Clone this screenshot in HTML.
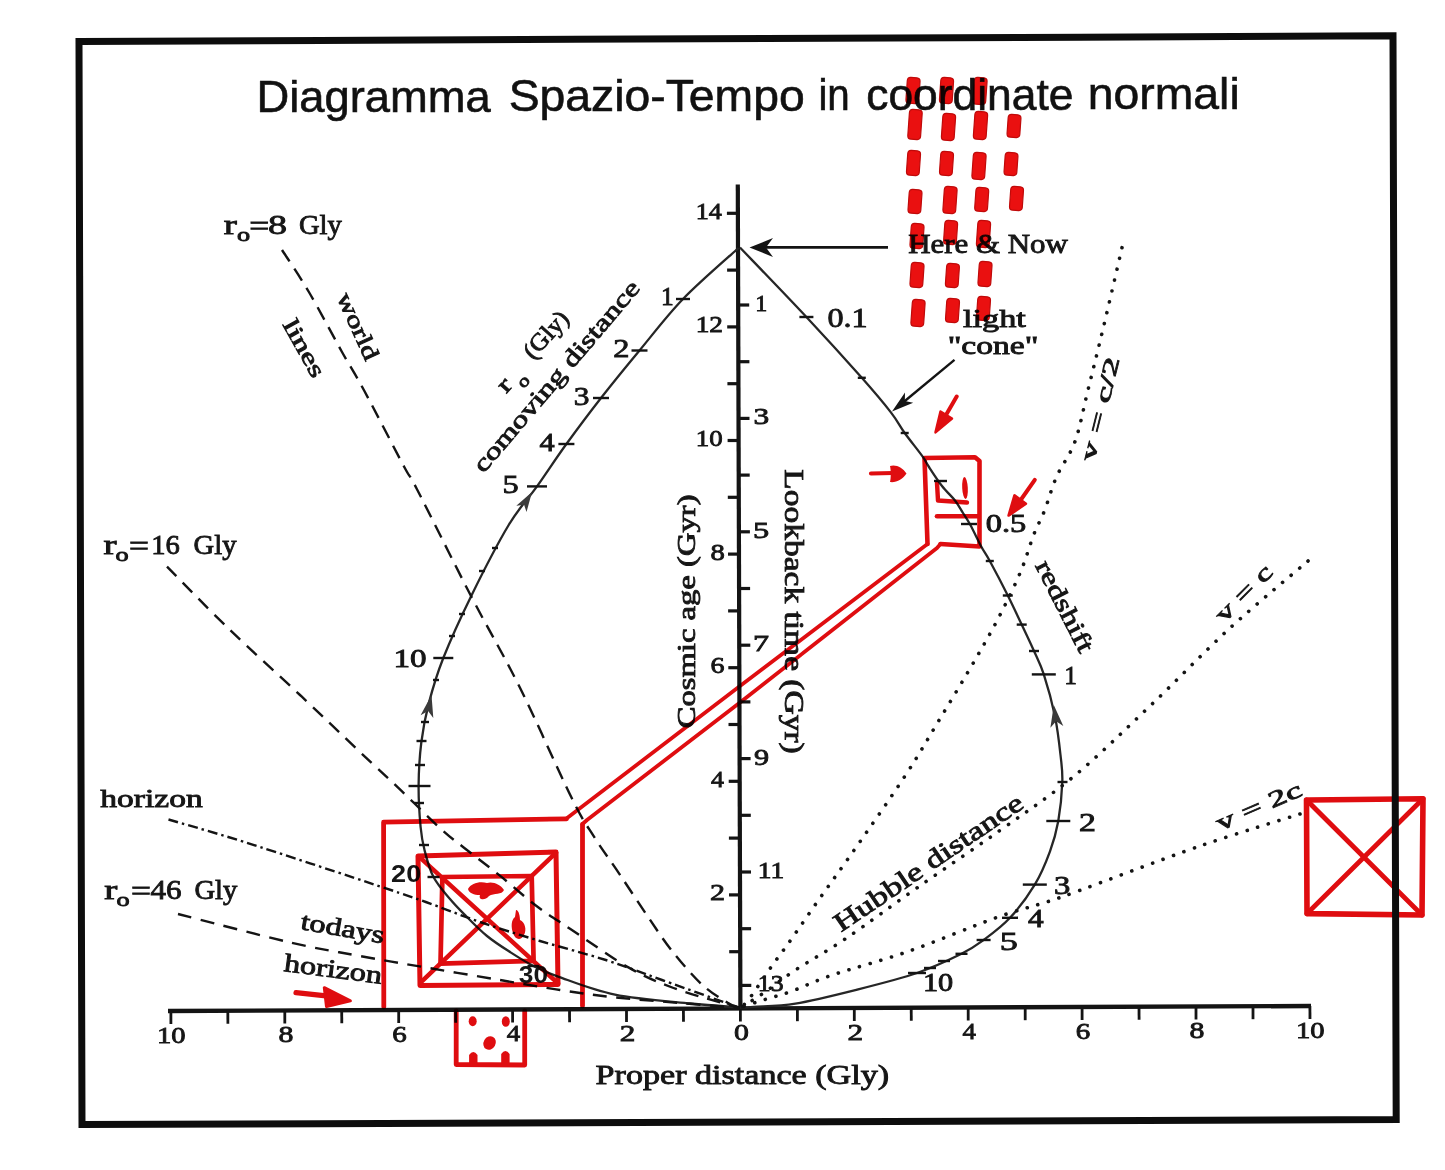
<!DOCTYPE html>
<html><head><meta charset="utf-8"><title>Diagramma Spazio-Tempo</title>
<style>html,body{margin:0;padding:0;background:#fff;width:1445px;height:1170px;overflow:hidden}svg{display:block;filter:blur(0.45px)}</style>
</head><body>
<svg width="1445" height="1170" viewBox="0 0 1445 1170">
<text x="256.4" y="112.2" style='font-family:"Liberation Sans",sans-serif;font-size:45.0px' fill="#111" stroke="#111" stroke-width="0.60" textLength="234.3" lengthAdjust="spacingAndGlyphs">Diagramma</text>
<text x="508.7" y="111.2" style='font-family:"Liberation Sans",sans-serif;font-size:45.0px' fill="#111" stroke="#111" stroke-width="0.60" textLength="296.0" lengthAdjust="spacingAndGlyphs">Spazio-Tempo</text>
<text x="818.4" y="109.9" style='font-family:"Liberation Sans",sans-serif;font-size:45.0px' fill="#111" stroke="#111" stroke-width="0.60" textLength="31.4" lengthAdjust="spacingAndGlyphs">in</text>
<text x="866.2" y="109.7" style='font-family:"Liberation Sans",sans-serif;font-size:45.0px' fill="#111" stroke="#111" stroke-width="0.60" textLength="207.3" lengthAdjust="spacingAndGlyphs">coordinate</text>
<text x="1087.8" y="108.8" style='font-family:"Liberation Sans",sans-serif;font-size:45.0px' fill="#111" stroke="#111" stroke-width="0.60" textLength="151.9" lengthAdjust="spacingAndGlyphs">normali</text>
<line x1="168" y1="1011.0" x2="1311" y2="1006.0" stroke="#141414" stroke-width="4.4"/>
<line x1="170.9" y1="1011.0" x2="170.9" y2="1024.0" stroke="#141414" stroke-width="2.8"/>
<text x="157.0" y="1042.5" style='font-family:"Liberation Serif",serif;font-size:24.0px' fill="#161616" stroke="#161616" stroke-width="0.85" textLength="28.6" lengthAdjust="spacingAndGlyphs">10</text>
<line x1="227.8" y1="1010.7" x2="227.9" y2="1023.7" stroke="#141414" stroke-width="2.8"/>
<line x1="284.8" y1="1010.5" x2="284.8" y2="1023.5" stroke="#141414" stroke-width="2.8"/>
<text x="278.4" y="1042.0" style='font-family:"Liberation Serif",serif;font-size:24.0px' fill="#161616" stroke="#161616" stroke-width="0.85" textLength="14.9" lengthAdjust="spacingAndGlyphs">8</text>
<line x1="341.7" y1="1010.2" x2="341.8" y2="1023.2" stroke="#141414" stroke-width="2.8"/>
<line x1="398.7" y1="1010.0" x2="398.7" y2="1023.0" stroke="#141414" stroke-width="2.8"/>
<text x="392.3" y="1041.5" style='font-family:"Liberation Serif",serif;font-size:24.0px' fill="#161616" stroke="#161616" stroke-width="0.85" textLength="14.5" lengthAdjust="spacingAndGlyphs">6</text>
<line x1="455.6" y1="1009.7" x2="455.7" y2="1022.7" stroke="#141414" stroke-width="2.8"/>
<line x1="512.6" y1="1009.5" x2="512.6" y2="1022.5" stroke="#141414" stroke-width="2.8"/>
<text x="506.8" y="1041.0" style='font-family:"Liberation Serif",serif;font-size:24.0px' fill="#161616" stroke="#161616" stroke-width="0.85" textLength="13.4" lengthAdjust="spacingAndGlyphs">4</text>
<line x1="569.5" y1="1009.2" x2="569.6" y2="1022.2" stroke="#141414" stroke-width="2.8"/>
<line x1="626.5" y1="1009.0" x2="626.5" y2="1022.0" stroke="#141414" stroke-width="2.8"/>
<text x="619.8" y="1040.5" style='font-family:"Liberation Serif",serif;font-size:24.0px' fill="#161616" stroke="#161616" stroke-width="0.85" textLength="15.6" lengthAdjust="spacingAndGlyphs">2</text>
<line x1="683.4" y1="1008.7" x2="683.5" y2="1021.7" stroke="#141414" stroke-width="2.8"/>
<line x1="740.4" y1="1008.5" x2="740.4" y2="1021.5" stroke="#141414" stroke-width="2.8"/>
<text x="734.0" y="1040.0" style='font-family:"Liberation Serif",serif;font-size:24.0px' fill="#161616" stroke="#161616" stroke-width="0.85" textLength="14.9" lengthAdjust="spacingAndGlyphs">0</text>
<line x1="797.4" y1="1008.2" x2="797.4" y2="1021.2" stroke="#141414" stroke-width="2.8"/>
<line x1="854.3" y1="1008.0" x2="854.3" y2="1021.0" stroke="#141414" stroke-width="2.8"/>
<text x="847.6" y="1039.5" style='font-family:"Liberation Serif",serif;font-size:24.0px' fill="#161616" stroke="#161616" stroke-width="0.85" textLength="15.6" lengthAdjust="spacingAndGlyphs">2</text>
<line x1="911.2" y1="1007.7" x2="911.3" y2="1020.7" stroke="#141414" stroke-width="2.8"/>
<line x1="968.2" y1="1007.5" x2="968.2" y2="1020.5" stroke="#141414" stroke-width="2.8"/>
<text x="962.4" y="1039.0" style='font-family:"Liberation Serif",serif;font-size:24.0px' fill="#161616" stroke="#161616" stroke-width="0.85" textLength="13.4" lengthAdjust="spacingAndGlyphs">4</text>
<line x1="1025.2" y1="1007.2" x2="1025.2" y2="1020.2" stroke="#141414" stroke-width="2.8"/>
<line x1="1082.1" y1="1007.0" x2="1082.1" y2="1020.0" stroke="#141414" stroke-width="2.8"/>
<text x="1075.7" y="1038.5" style='font-family:"Liberation Serif",serif;font-size:24.0px' fill="#161616" stroke="#161616" stroke-width="0.85" textLength="14.5" lengthAdjust="spacingAndGlyphs">6</text>
<line x1="1139.0" y1="1006.7" x2="1139.1" y2="1019.7" stroke="#141414" stroke-width="2.8"/>
<line x1="1196.0" y1="1006.5" x2="1196.0" y2="1019.5" stroke="#141414" stroke-width="2.8"/>
<text x="1189.6" y="1038.0" style='font-family:"Liberation Serif",serif;font-size:24.0px' fill="#161616" stroke="#161616" stroke-width="0.85" textLength="14.9" lengthAdjust="spacingAndGlyphs">8</text>
<line x1="1253.0" y1="1006.2" x2="1253.0" y2="1019.2" stroke="#141414" stroke-width="2.8"/>
<line x1="1309.9" y1="1006.0" x2="1310.0" y2="1019.0" stroke="#141414" stroke-width="2.8"/>
<text x="1296.0" y="1037.5" style='font-family:"Liberation Serif",serif;font-size:24.0px' fill="#161616" stroke="#161616" stroke-width="0.85" textLength="28.6" lengthAdjust="spacingAndGlyphs">10</text>
<line x1="737.8" y1="184.5" x2="740.4" y2="1009" stroke="#141414" stroke-width="4.2"/>
<line x1="729.2" y1="951.7" x2="740.2" y2="951.7" stroke="#141414" stroke-width="3.2"/>
<line x1="729.0" y1="894.9" x2="740.0" y2="894.9" stroke="#141414" stroke-width="3.2"/>
<text x="710.1" y="900.4" style='font-family:"Liberation Serif",serif;font-size:24.0px' fill="#161616" stroke="#161616" stroke-width="0.85" textLength="15.0" lengthAdjust="spacingAndGlyphs">2</text>
<line x1="728.9" y1="838.1" x2="739.9" y2="838.1" stroke="#141414" stroke-width="3.2"/>
<line x1="728.7" y1="781.3" x2="739.7" y2="781.3" stroke="#141414" stroke-width="3.2"/>
<text x="711.0" y="786.8" style='font-family:"Liberation Serif",serif;font-size:24.0px' fill="#161616" stroke="#161616" stroke-width="0.85" textLength="12.9" lengthAdjust="spacingAndGlyphs">4</text>
<line x1="728.5" y1="724.5" x2="739.5" y2="724.5" stroke="#141414" stroke-width="3.2"/>
<line x1="728.3" y1="667.7" x2="739.3" y2="667.7" stroke="#141414" stroke-width="3.2"/>
<text x="710.4" y="673.2" style='font-family:"Liberation Serif",serif;font-size:24.0px' fill="#161616" stroke="#161616" stroke-width="0.85" textLength="14.0" lengthAdjust="spacingAndGlyphs">6</text>
<line x1="728.1" y1="610.9" x2="739.1" y2="610.9" stroke="#141414" stroke-width="3.2"/>
<line x1="728.0" y1="554.1" x2="739.0" y2="554.1" stroke="#141414" stroke-width="3.2"/>
<text x="710.4" y="559.6" style='font-family:"Liberation Serif",serif;font-size:24.0px' fill="#161616" stroke="#161616" stroke-width="0.85" textLength="14.3" lengthAdjust="spacingAndGlyphs">8</text>
<line x1="727.8" y1="497.3" x2="738.8" y2="497.3" stroke="#141414" stroke-width="3.2"/>
<line x1="727.6" y1="440.5" x2="738.6" y2="440.5" stroke="#141414" stroke-width="3.2"/>
<text x="695.7" y="446.0" style='font-family:"Liberation Serif",serif;font-size:24.0px' fill="#161616" stroke="#161616" stroke-width="0.85" textLength="26.9" lengthAdjust="spacingAndGlyphs">10</text>
<line x1="727.4" y1="383.7" x2="738.4" y2="383.7" stroke="#141414" stroke-width="3.2"/>
<line x1="727.2" y1="326.9" x2="738.2" y2="326.9" stroke="#141414" stroke-width="3.2"/>
<text x="695.7" y="332.4" style='font-family:"Liberation Serif",serif;font-size:24.0px' fill="#161616" stroke="#161616" stroke-width="0.85" textLength="27.3" lengthAdjust="spacingAndGlyphs">12</text>
<line x1="727.1" y1="270.1" x2="738.1" y2="270.1" stroke="#141414" stroke-width="3.2"/>
<line x1="726.9" y1="213.3" x2="737.9" y2="213.3" stroke="#141414" stroke-width="3.2"/>
<text x="695.8" y="218.8" style='font-family:"Liberation Serif",serif;font-size:24.0px' fill="#161616" stroke="#161616" stroke-width="0.85" textLength="26.1" lengthAdjust="spacingAndGlyphs">14</text>
<line x1="738.2" y1="305.0" x2="749.2" y2="305.0" stroke="#141414" stroke-width="3.2"/>
<text x="755.3" y="311.0" style='font-family:"Liberation Serif",serif;font-size:24.0px' fill="#161616" stroke="#161616" stroke-width="0.85" textLength="12.0" lengthAdjust="spacingAndGlyphs">1</text>
<line x1="738.4" y1="361.7" x2="749.4" y2="361.7" stroke="#141414" stroke-width="3.2"/>
<line x1="738.5" y1="418.4" x2="749.5" y2="418.4" stroke="#141414" stroke-width="3.2"/>
<text x="753.6" y="424.4" style='font-family:"Liberation Serif",serif;font-size:24.0px' fill="#161616" stroke="#161616" stroke-width="0.85" textLength="15.7" lengthAdjust="spacingAndGlyphs">3</text>
<line x1="738.7" y1="475.1" x2="749.7" y2="475.1" stroke="#141414" stroke-width="3.2"/>
<line x1="738.9" y1="531.8" x2="749.9" y2="531.8" stroke="#141414" stroke-width="3.2"/>
<text x="753.0" y="537.8" style='font-family:"Liberation Serif",serif;font-size:24.0px' fill="#161616" stroke="#161616" stroke-width="0.85" textLength="16.2" lengthAdjust="spacingAndGlyphs">5</text>
<line x1="739.1" y1="588.5" x2="750.1" y2="588.5" stroke="#141414" stroke-width="3.2"/>
<line x1="739.3" y1="645.2" x2="750.3" y2="645.2" stroke="#141414" stroke-width="3.2"/>
<text x="752.9" y="651.2" style='font-family:"Liberation Serif",serif;font-size:24.0px' fill="#161616" stroke="#161616" stroke-width="0.85" textLength="16.0" lengthAdjust="spacingAndGlyphs">7</text>
<line x1="739.4" y1="701.9" x2="750.4" y2="701.9" stroke="#141414" stroke-width="3.2"/>
<line x1="739.6" y1="758.6" x2="750.6" y2="758.6" stroke="#141414" stroke-width="3.2"/>
<text x="754.1" y="764.6" style='font-family:"Liberation Serif",serif;font-size:24.0px' fill="#161616" stroke="#161616" stroke-width="0.85" textLength="15.1" lengthAdjust="spacingAndGlyphs">9</text>
<line x1="739.8" y1="815.3" x2="750.8" y2="815.3" stroke="#141414" stroke-width="3.2"/>
<line x1="740.0" y1="872.0" x2="751.0" y2="872.0" stroke="#141414" stroke-width="3.2"/>
<text x="757.7" y="878.0" style='font-family:"Liberation Serif",serif;font-size:24.0px' fill="#161616" stroke="#161616" stroke-width="0.85" textLength="26.4" lengthAdjust="spacingAndGlyphs">11</text>
<line x1="740.1" y1="928.7" x2="751.1" y2="928.7" stroke="#141414" stroke-width="3.2"/>
<line x1="740.3" y1="985.4" x2="751.3" y2="985.4" stroke="#141414" stroke-width="3.2"/>
<text x="757.8" y="991.4" style='font-family:"Liberation Serif",serif;font-size:24.0px' fill="#161616" stroke="#161616" stroke-width="0.85" textLength="25.7" lengthAdjust="spacingAndGlyphs">13</text>
<text x="595.6" y="1084.3" style='font-family:"Liberation Serif",serif;font-size:27.0px' fill="#161616" stroke="#161616" stroke-width="0.85" textLength="293.5" lengthAdjust="spacingAndGlyphs">Proper distance (Gly)</text>
<text x="695.0" y="728.3" style='font-family:"Liberation Serif",serif;font-size:26.0px' fill="#161616" stroke="#161616" stroke-width="0.85" textLength="233.8" lengthAdjust="spacingAndGlyphs" transform="rotate(-90.00 695.0 728.3)">Cosmic age (Gyr)</text>
<text x="784.5" y="469.3" style='font-family:"Liberation Serif",serif;font-size:28.0px' fill="#161616" stroke="#161616" stroke-width="0.85" textLength="284.4" lengthAdjust="spacingAndGlyphs" transform="rotate(90.00 784.5 469.3)">Lookback time (Gyr)</text>
<path d="M738.5,248.0 C729.2,256.5 699.5,281.9 683.0,299.0 C666.5,316.1 653.2,334.0 639.5,350.5 C625.8,367.0 613.2,382.4 601.0,398.0 C588.8,413.6 577.1,429.3 566.4,444.0 C555.7,458.7 546.6,472.9 537.0,486.4 C527.4,499.9 519.7,506.7 508.7,525.0 C497.7,543.3 481.9,574.2 471.0,596.4 C460.1,618.6 450.4,640.1 443.3,658.0 C436.2,675.9 432.4,689.5 428.7,703.6 C425.0,717.7 423.0,728.8 421.3,742.5 C419.6,756.2 418.7,771.9 418.6,786.0 C418.5,800.1 419.6,816.3 420.6,827.0 C421.6,837.7 422.4,841.7 424.5,850.0 C426.6,858.3 429.2,868.8 433.5,877.0 C437.8,885.2 444.6,892.5 450.0,899.0 C455.4,905.5 459.8,909.8 466.0,916.0 C472.2,922.2 479.7,930.0 487.0,936.0 C494.3,942.0 502.2,947.0 510.0,952.0 C517.8,957.0 525.4,961.9 533.5,966.0 C541.6,970.1 545.2,972.0 558.8,976.8 C572.4,981.6 593.1,990.1 615.0,994.6 C636.9,999.1 669.6,1001.4 690.4,1003.5 C711.2,1005.6 731.7,1006.8 740.0,1007.5" fill="none" stroke="#262626" stroke-width="2.3"/>
<path d="M740.0,247.5 C751.1,259.1 786.1,295.3 806.4,317.0 C826.7,338.7 847.7,361.9 861.8,377.8 C875.9,393.7 883.8,403.2 890.9,412.4 C898.0,421.6 899.4,425.6 904.7,433.0 C910.0,440.4 918.7,451.0 922.7,456.7 C926.8,462.4 925.8,462.1 929.0,467.0 C932.2,471.9 937.7,480.4 942.0,486.0 C946.3,491.6 951.5,496.0 955.0,500.5 C958.5,505.0 960.4,508.9 963.0,513.0 C965.6,517.1 967.3,519.3 970.4,525.0 C973.5,530.7 978.3,541.0 981.5,547.0 C984.7,553.0 985.4,552.9 989.8,561.0 C994.2,569.1 1002.5,584.9 1007.8,595.5 C1013.1,606.1 1017.3,615.4 1021.7,624.6 C1026.1,633.9 1030.3,642.7 1034.0,651.0 C1037.7,659.3 1040.3,663.6 1043.8,674.4 C1047.3,685.2 1052.1,702.6 1054.9,716.0 C1057.7,729.4 1059.3,744.0 1060.5,755.0 C1061.7,766.0 1062.7,771.0 1062.3,782.0 C1061.9,793.0 1060.3,809.5 1058.3,821.0 C1056.2,832.5 1053.9,840.7 1050.0,851.3 C1046.1,861.9 1041.5,873.5 1034.8,884.6 C1028.1,895.7 1018.5,908.6 1010.0,917.8 C1001.5,927.0 991.7,934.0 983.6,940.0 C975.5,946.0 972.6,948.3 961.5,953.8 C950.4,959.3 934.5,967.0 917.0,973.0 C899.5,979.0 876.6,984.7 856.3,989.8 C836.0,994.9 812.5,1000.8 795.4,1003.6 C778.3,1006.4 763.0,1006.1 753.8,1006.8 C744.6,1007.4 742.3,1007.4 740.0,1007.5" fill="none" stroke="#262626" stroke-width="2.3"/>
<line x1="676.0" y1="299.0" x2="690.0" y2="299.0" stroke="#141414" stroke-width="2.4"/>
<line x1="631.5" y1="350.5" x2="647.5" y2="350.5" stroke="#141414" stroke-width="2.4"/>
<line x1="593.0" y1="398.0" x2="609.0" y2="398.0" stroke="#141414" stroke-width="2.4"/>
<line x1="558.4" y1="444.0" x2="574.4" y2="444.0" stroke="#141414" stroke-width="2.4"/>
<line x1="527.0" y1="486.4" x2="547.0" y2="486.4" stroke="#141414" stroke-width="2.4"/>
<line x1="433.3" y1="658.0" x2="453.3" y2="658.0" stroke="#141414" stroke-width="2.4"/>
<line x1="408.5" y1="786.0" x2="430.5" y2="786.0" stroke="#141414" stroke-width="2.4"/>
<line x1="419.0" y1="845.0" x2="429.0" y2="845.0" stroke="#141414" stroke-width="2.4"/>
<line x1="427.5" y1="877.0" x2="439.5" y2="877.0" stroke="#141414" stroke-width="2.4"/>
<line x1="527.5" y1="966.0" x2="539.5" y2="966.0" stroke="#141414" stroke-width="2.4"/>
<line x1="492.0" y1="548.0" x2="498.0" y2="548.0" stroke="#141414" stroke-width="2.4"/>
<line x1="479.0" y1="571.0" x2="485.0" y2="571.0" stroke="#141414" stroke-width="2.4"/>
<line x1="459.0" y1="614.0" x2="465.0" y2="614.0" stroke="#141414" stroke-width="2.4"/>
<line x1="449.0" y1="636.0" x2="455.0" y2="636.0" stroke="#141414" stroke-width="2.4"/>
<line x1="433.0" y1="680.0" x2="439.0" y2="680.0" stroke="#141414" stroke-width="2.4"/>
<line x1="421.0" y1="722.0" x2="429.0" y2="722.0" stroke="#141414" stroke-width="2.4"/>
<line x1="416.5" y1="741.0" x2="426.5" y2="741.0" stroke="#141414" stroke-width="2.4"/>
<line x1="415.0" y1="765.0" x2="425.0" y2="765.0" stroke="#141414" stroke-width="2.4"/>
<line x1="414.0" y1="803.0" x2="424.0" y2="803.0" stroke="#141414" stroke-width="2.4"/>
<line x1="934.0" y1="481.0" x2="947.0" y2="481.0" stroke="#141414" stroke-width="2.4"/>
<line x1="799.4" y1="317.0" x2="813.4" y2="317.0" stroke="#141414" stroke-width="2.4"/>
<line x1="857.8" y1="377.8" x2="865.8" y2="377.8" stroke="#141414" stroke-width="2.4"/>
<line x1="900.7" y1="433.0" x2="908.7" y2="433.0" stroke="#141414" stroke-width="2.4"/>
<line x1="961.0" y1="524.0" x2="977.0" y2="524.0" stroke="#141414" stroke-width="2.4"/>
<line x1="985.8" y1="561.0" x2="993.8" y2="561.0" stroke="#141414" stroke-width="2.4"/>
<line x1="1002.8" y1="595.5" x2="1012.8" y2="595.5" stroke="#141414" stroke-width="2.4"/>
<line x1="1016.7" y1="624.6" x2="1026.7" y2="624.6" stroke="#141414" stroke-width="2.4"/>
<line x1="1029.0" y1="651.0" x2="1039.0" y2="651.0" stroke="#141414" stroke-width="2.4"/>
<line x1="1031.8" y1="674.4" x2="1055.8" y2="674.4" stroke="#141414" stroke-width="2.4"/>
<line x1="1057.5" y1="782.0" x2="1067.5" y2="782.0" stroke="#141414" stroke-width="2.4"/>
<line x1="1046.3" y1="821.0" x2="1070.3" y2="821.0" stroke="#141414" stroke-width="2.4"/>
<line x1="1022.8" y1="884.6" x2="1046.8" y2="884.6" stroke="#141414" stroke-width="2.4"/>
<line x1="1002.0" y1="917.8" x2="1018.0" y2="917.8" stroke="#141414" stroke-width="2.4"/>
<line x1="976.6" y1="940.0" x2="990.6" y2="940.0" stroke="#141414" stroke-width="2.4"/>
<line x1="955.5" y1="953.8" x2="967.5" y2="953.8" stroke="#141414" stroke-width="2.4"/>
<line x1="938.0" y1="961.0" x2="950.0" y2="961.0" stroke="#141414" stroke-width="2.4"/>
<line x1="908.0" y1="973.0" x2="926.0" y2="973.0" stroke="#141414" stroke-width="2.4"/>
<line x1="924.0" y1="968.0" x2="936.0" y2="968.0" stroke="#141414" stroke-width="2.4"/>
<polygon points="532.0,492.0 526.5,512.1 524.1,504.7 516.3,505.8" fill="#3a3a3a"/>
<polygon points="431.5,695.0 433.3,717.9 428.1,711.1 420.6,715.2" fill="#3a3a3a"/>
<polygon points="1053.8,705.0 1063.3,725.9 1056.1,721.3 1050.4,727.7" fill="#3a3a3a"/>
<text x="661.0" y="305.0" style='font-family:"Liberation Serif",serif;font-size:26.0px' fill="#161616" stroke="#161616" stroke-width="0.85" textLength="12.7" lengthAdjust="spacingAndGlyphs">1</text>
<text x="613.3" y="356.5" style='font-family:"Liberation Serif",serif;font-size:26.0px' fill="#161616" stroke="#161616" stroke-width="0.85" textLength="16.2" lengthAdjust="spacingAndGlyphs">2</text>
<text x="573.8" y="405.0" style='font-family:"Liberation Serif",serif;font-size:26.0px' fill="#161616" stroke="#161616" stroke-width="0.85" textLength="15.7" lengthAdjust="spacingAndGlyphs">3</text>
<text x="539.4" y="451.0" style='font-family:"Liberation Serif",serif;font-size:26.0px' fill="#161616" stroke="#161616" stroke-width="0.85" textLength="15.1" lengthAdjust="spacingAndGlyphs">4</text>
<text x="502.6" y="493.0" style='font-family:"Liberation Serif",serif;font-size:26.0px' fill="#161616" stroke="#161616" stroke-width="0.85" textLength="16.2" lengthAdjust="spacingAndGlyphs">5</text>
<text x="393.4" y="666.5" style='font-family:"Liberation Serif",serif;font-size:26.0px' fill="#161616" stroke="#161616" stroke-width="0.85" textLength="33.1" lengthAdjust="spacingAndGlyphs">10</text>
<text x="391.1" y="881.5" style='font-family:"Liberation Sans",sans-serif;font-weight:bold;font-size:23.0px' fill="#161616" textLength="30.1" lengthAdjust="spacingAndGlyphs">20</text>
<text x="518.8" y="982.5" style='font-family:"Liberation Sans",sans-serif;font-weight:bold;font-size:23.0px' fill="#161616" textLength="29.3" lengthAdjust="spacingAndGlyphs">30</text>
<text x="827.5" y="326.5" style='font-family:"Liberation Serif",serif;font-size:28.0px' fill="#161616" stroke="#161616" stroke-width="0.85" textLength="40.2" lengthAdjust="spacingAndGlyphs">0.1</text>
<text x="985.7" y="532.0" style='font-family:"Liberation Serif",serif;font-size:25.0px' fill="#161616" stroke="#161616" stroke-width="0.85" textLength="40.6" lengthAdjust="spacingAndGlyphs">0.5</text>
<text x="1064.3" y="684.0" style='font-family:"Liberation Serif",serif;font-size:26.0px' fill="#161616" stroke="#161616" stroke-width="0.85" textLength="12.7" lengthAdjust="spacingAndGlyphs">1</text>
<text x="1079.0" y="830.6" style='font-family:"Liberation Serif",serif;font-size:25.0px' fill="#161616" stroke="#161616" stroke-width="0.85" textLength="16.9" lengthAdjust="spacingAndGlyphs">2</text>
<text x="1054.1" y="894.3" style='font-family:"Liberation Serif",serif;font-size:25.0px' fill="#161616" stroke="#161616" stroke-width="0.85" textLength="16.3" lengthAdjust="spacingAndGlyphs">3</text>
<text x="1027.9" y="927.0" style='font-family:"Liberation Serif",serif;font-size:25.0px' fill="#161616" stroke="#161616" stroke-width="0.85" textLength="15.6" lengthAdjust="spacingAndGlyphs">4</text>
<text x="999.8" y="950.0" style='font-family:"Liberation Serif",serif;font-size:25.0px' fill="#161616" stroke="#161616" stroke-width="0.85" textLength="18.1" lengthAdjust="spacingAndGlyphs">5</text>
<text x="922.9" y="991.0" style='font-family:"Liberation Serif",serif;font-size:25.0px' fill="#161616" stroke="#161616" stroke-width="0.85" textLength="30.3" lengthAdjust="spacingAndGlyphs">10</text>
<path d="M282.0,250.0 C286.5,257.0 298.9,275.0 308.9,292.0 C318.9,309.0 332.8,335.5 342.0,352.0 C351.2,368.5 354.1,371.9 364.4,391.0 C374.7,410.1 395.3,450.2 404.0,466.5 C412.7,482.8 405.5,467.1 416.7,488.7 C427.9,510.3 453.9,563.0 471.0,596.0 C488.1,629.0 502.8,653.4 519.6,687.0 C536.4,720.6 559.2,772.8 571.6,797.8 C584.0,822.8 586.1,824.1 594.0,836.7 C601.9,849.3 610.5,860.6 619.0,873.3 C627.5,886.0 636.5,899.9 645.3,912.8 C654.1,925.6 662.2,938.5 671.6,950.4 C681.0,962.3 692.3,975.5 701.7,984.3 C711.1,993.1 721.6,999.0 728.0,1003.0 C734.4,1007.0 738.0,1007.2 740.0,1008.0" fill="none" stroke="#141414" stroke-width="2.4" stroke-dasharray="14 8.5"/>
<path d="M167.0,566.7 C177.5,577.2 207.8,608.6 230.0,630.0 C252.2,651.4 278.3,674.7 300.0,695.0 C321.7,715.3 343.2,736.1 360.0,752.0 C376.8,767.9 387.5,777.6 401.0,790.4 C414.5,803.2 430.5,819.5 441.0,829.0 C451.5,838.5 454.2,840.0 464.0,847.7 C473.8,855.4 487.5,865.7 499.6,875.4 C511.7,885.1 524.7,897.1 536.5,906.0 C548.3,914.9 555.1,918.8 570.4,929.0 C585.7,939.2 611.2,957.6 628.4,967.4 C645.6,977.2 654.9,981.2 673.5,988.0 C692.1,994.8 728.9,1004.7 740.0,1008.0" fill="none" stroke="#141414" stroke-width="2.4" stroke-dasharray="13.5 9"/>
<path d="M168.5,819.5 C181.2,823.3 209.4,831.0 245.0,842.2 C280.6,853.5 351.7,877.0 381.8,887.0 C411.9,897.0 409.4,896.2 425.8,902.0 C442.2,907.8 461.0,915.5 480.0,922.0 C499.0,928.5 519.0,934.7 540.0,941.0 C561.0,947.3 585.5,953.5 605.8,960.0 C626.1,966.5 639.6,972.0 662.0,980.0 C684.4,988.0 727.0,1003.3 740.0,1008.0" fill="none" stroke="#141414" stroke-width="2.4" stroke-dasharray="10 4 2.5 4"/>
<path d="M178.0,914.0 C196.7,918.7 259.7,935.4 290.0,942.4 C320.3,949.4 336.9,951.7 360.0,956.0 C383.1,960.3 405.5,964.0 428.8,968.0 C452.1,972.0 478.1,976.3 500.0,980.0 C521.9,983.7 540.8,987.1 560.0,990.0 C579.2,992.9 595.0,995.2 615.0,997.4 C635.0,999.6 659.2,1001.2 680.0,1003.0 C700.8,1004.8 730.0,1007.2 740.0,1008.0" fill="none" stroke="#141414" stroke-width="2.4" stroke-dasharray="14 9.5"/>
<path d="M1122.0,247.7 C1118.8,261.5 1108.3,307.0 1102.6,330.7 C1096.9,354.4 1092.6,371.5 1088.0,390.0 C1083.4,408.5 1080.2,427.1 1075.0,441.5 C1069.8,455.9 1061.7,465.1 1056.6,476.6 C1051.5,488.1 1048.3,501.1 1044.5,510.7 C1040.7,520.3 1038.0,523.9 1034.0,534.0 C1030.0,544.1 1026.4,558.0 1020.7,571.5 C1015.0,585.0 1007.6,600.2 1000.0,615.0 C992.4,629.8 985.0,642.7 975.0,660.0 C965.0,677.3 951.7,699.4 940.0,718.7 C928.3,738.0 919.5,753.8 905.0,776.0 C890.5,798.2 867.0,831.7 852.8,852.0 C838.6,872.3 830.6,883.0 820.0,898.0 C809.4,913.0 797.6,930.4 789.2,942.2 C780.8,954.0 775.9,960.2 769.7,969.0 C763.5,977.8 756.6,988.7 752.0,995.0 C747.4,1001.3 743.7,1005.0 742.0,1007.0" fill="none" stroke="#141414" stroke-width="3.6" stroke-linecap="round" stroke-dasharray="0.1 11"/>
<path d="M1308.0,561.0 C1295.0,572.2 1256.3,603.8 1230.0,628.0 C1203.7,652.2 1176.2,681.2 1150.0,706.0 C1123.8,730.8 1098.3,756.1 1073.0,777.0 C1047.7,797.9 1024.2,813.2 998.4,831.5 C972.6,849.8 943.7,869.1 918.4,886.9 C893.1,904.6 867.1,924.1 846.6,938.0 C826.1,951.9 809.0,961.0 795.4,970.0 C781.8,979.0 773.9,985.8 765.0,992.0 C756.1,998.2 745.8,1004.5 742.0,1007.0" fill="none" stroke="#141414" stroke-width="3.6" stroke-linecap="round" stroke-dasharray="0.1 11"/>
<path d="M1300.0,814.0 C1283.3,819.3 1237.8,832.9 1200.0,846.0 C1162.2,859.1 1099.7,883.2 1073.0,892.9 C1046.3,902.6 1052.8,899.9 1040.0,904.0 C1027.2,908.1 1018.3,909.7 996.3,917.6 C974.3,925.5 935.3,941.9 908.0,951.5 C880.7,961.1 851.8,968.4 832.3,975.0 C812.8,981.6 803.3,987.1 791.3,991.4 C779.2,995.7 768.2,998.4 760.0,1001.0 C751.8,1003.6 745.0,1006.0 742.0,1007.0" fill="none" stroke="#141414" stroke-width="3.6" stroke-linecap="round" stroke-dasharray="0.1 11"/>
<text x="223.7" y="233.9" style='font-family:"Liberation Serif",serif;font-size:28.0px' fill="#161616" stroke="#161616" stroke-width="0.85" textLength="13.1" lengthAdjust="spacingAndGlyphs">r</text>
<text x="237.0" y="240.9" style='font-family:"Liberation Serif",serif;font-size:19.0px' fill="#161616" stroke="#161616" stroke-width="0.85" textLength="13.1" lengthAdjust="spacingAndGlyphs">o</text>
<text x="249.2" y="235.4" style='font-family:"Liberation Serif",serif;font-size:28.0px' fill="#161616" stroke="#161616" stroke-width="0.85" textLength="20.0" lengthAdjust="spacingAndGlyphs">=</text>
<text x="268.1" y="233.9" style='font-family:"Liberation Serif",serif;font-size:28.0px' fill="#161616" stroke="#161616" stroke-width="0.85" textLength="19.0" lengthAdjust="spacingAndGlyphs">8</text>
<text x="298.9" y="233.9" style='font-family:"Liberation Serif",serif;font-size:28.0px' fill="#161616" stroke="#161616" stroke-width="0.85" textLength="42.8" lengthAdjust="spacingAndGlyphs">Gly</text>
<text x="103.5" y="553.5" style='font-family:"Liberation Serif",serif;font-size:28.0px' fill="#161616" stroke="#161616" stroke-width="0.85" textLength="13.1" lengthAdjust="spacingAndGlyphs">r</text>
<text x="115.5" y="560.5" style='font-family:"Liberation Serif",serif;font-size:19.0px' fill="#161616" stroke="#161616" stroke-width="0.85" textLength="13.1" lengthAdjust="spacingAndGlyphs">o</text>
<text x="129.0" y="555.0" style='font-family:"Liberation Serif",serif;font-size:28.0px' fill="#161616" stroke="#161616" stroke-width="0.85" textLength="20.0" lengthAdjust="spacingAndGlyphs">=</text>
<text x="151.3" y="553.5" style='font-family:"Liberation Serif",serif;font-size:28.0px' fill="#161616" stroke="#161616" stroke-width="0.85" textLength="28.6" lengthAdjust="spacingAndGlyphs">16</text>
<text x="193.6" y="553.5" style='font-family:"Liberation Serif",serif;font-size:28.0px' fill="#161616" stroke="#161616" stroke-width="0.85" textLength="42.8" lengthAdjust="spacingAndGlyphs">Gly</text>
<text x="104.2" y="898.9" style='font-family:"Liberation Serif",serif;font-size:28.0px' fill="#161616" stroke="#161616" stroke-width="0.85" textLength="13.1" lengthAdjust="spacingAndGlyphs">r</text>
<text x="116.5" y="905.9" style='font-family:"Liberation Serif",serif;font-size:19.0px' fill="#161616" stroke="#161616" stroke-width="0.85" textLength="13.1" lengthAdjust="spacingAndGlyphs">o</text>
<text x="131.0" y="900.4" style='font-family:"Liberation Serif",serif;font-size:28.0px' fill="#161616" stroke="#161616" stroke-width="0.85" textLength="20.0" lengthAdjust="spacingAndGlyphs">=</text>
<text x="150.5" y="898.9" style='font-family:"Liberation Serif",serif;font-size:28.0px' fill="#161616" stroke="#161616" stroke-width="0.85" textLength="31.1" lengthAdjust="spacingAndGlyphs">46</text>
<text x="194.5" y="898.9" style='font-family:"Liberation Serif",serif;font-size:28.0px' fill="#161616" stroke="#161616" stroke-width="0.85" textLength="42.8" lengthAdjust="spacingAndGlyphs">Gly</text>
<text x="100.3" y="807.2" style='font-family:"Liberation Serif",serif;font-size:25.5px' fill="#161616" stroke="#161616" stroke-width="0.85" textLength="102.4" lengthAdjust="spacingAndGlyphs">horizon</text>
<text x="908.2" y="253.2" style='font-family:"Liberation Serif",serif;font-size:27.0px' fill="#161616" stroke="#161616" stroke-width="0.85" textLength="159.7" lengthAdjust="spacingAndGlyphs">Here &amp; Now</text>
<text x="963.1" y="326.5" style='font-family:"Liberation Serif",serif;font-size:25.5px' fill="#161616" stroke="#161616" stroke-width="0.85" textLength="62.8" lengthAdjust="spacingAndGlyphs">light</text>
<text x="947.7" y="353.8" style='font-family:"Liberation Serif",serif;font-size:25.0px' fill="#161616" stroke="#161616" stroke-width="0.85" textLength="90.7" lengthAdjust="spacingAndGlyphs">&quot;cone&quot;</text>
<text x="336.5" y="297.0" style='font-family:"Liberation Serif",serif;font-size:23.0px' fill="#161616" stroke="#161616" stroke-width="0.85" textLength="71.2" lengthAdjust="spacingAndGlyphs" transform="rotate(65.80 336.5 297.0)">world</text>
<text x="282.3" y="324.4" style='font-family:"Liberation Serif",serif;font-size:23.0px' fill="#161616" stroke="#161616" stroke-width="0.85" textLength="62.8" lengthAdjust="spacingAndGlyphs" transform="rotate(60.80 282.3 324.4)">lines</text>
<text x="483.4" y="474.0" style='font-family:"Liberation Serif",serif;font-size:24.0px' fill="#161616" stroke="#161616" stroke-width="0.85" textLength="243.4" lengthAdjust="spacingAndGlyphs" transform="rotate(-49.60 483.4 474.0)">comoving distance</text>
<text x="506.3" y="393.9" style='font-family:"Liberation Serif",serif;font-size:24.0px' fill="#161616" stroke="#161616" stroke-width="0.85" textLength="10.9" lengthAdjust="spacingAndGlyphs" transform="rotate(-48.00 506.3 393.9)">r</text>
<text x="523.7" y="388.9" style='font-family:"Liberation Serif",serif;font-size:17.0px' fill="#161616" stroke="#161616" stroke-width="0.85" textLength="10.7" lengthAdjust="spacingAndGlyphs" transform="rotate(-48.00 523.7 388.9)">o</text>
<text x="533.2" y="360.4" style='font-family:"Liberation Serif",serif;font-size:24.0px' fill="#161616" stroke="#161616" stroke-width="0.85" textLength="55.2" lengthAdjust="spacingAndGlyphs" transform="rotate(-48.00 533.2 360.4)">(Gly)</text>
<text x="1094.0" y="462.0" style='font-family:"Liberation Serif",serif;font-size:21.0px' fill="#161616" stroke="#161616" stroke-width="0.85" textLength="106.1" lengthAdjust="spacingAndGlyphs" transform="rotate(-76.00 1094.0 462.0)">v = c/2</text>
<text x="1034.7" y="565.4" style='font-family:"Liberation Serif",serif;font-size:25.0px' fill="#161616" stroke="#161616" stroke-width="0.85" textLength="100.0" lengthAdjust="spacingAndGlyphs" transform="rotate(63.00 1034.7 565.4)">redshift</text>
<text x="1224.0" y="623.5" style='font-family:"Liberation Serif",serif;font-size:23.0px' fill="#161616" stroke="#161616" stroke-width="0.85" textLength="71.0" lengthAdjust="spacingAndGlyphs" transform="rotate(-45.00 1224.0 623.5)">v = c</text>
<text x="841.1" y="932.6" style='font-family:"Liberation Serif",serif;font-size:26.0px' fill="#161616" stroke="#161616" stroke-width="0.85" textLength="223.2" lengthAdjust="spacingAndGlyphs" transform="rotate(-34.30 841.1 932.6)">Hubble distance</text>
<text x="1220.0" y="831.0" style='font-family:"Liberation Serif",serif;font-size:23.0px' fill="#161616" stroke="#161616" stroke-width="0.85" textLength="91.0" lengthAdjust="spacingAndGlyphs" transform="rotate(-23.30 1220.0 831.0)">v = 2c</text>
<text x="299.7" y="928.9" style='font-family:"Liberation Serif",serif;font-size:25.0px' fill="#161616" stroke="#161616" stroke-width="0.85" textLength="84.5" lengthAdjust="spacingAndGlyphs" transform="rotate(10.00 299.7 928.9)">todays</text>
<text x="283.2" y="971.0" style='font-family:"Liberation Serif",serif;font-size:25.5px' fill="#161616" stroke="#161616" stroke-width="0.85" textLength="98.8" lengthAdjust="spacingAndGlyphs" transform="rotate(7.40 283.2 971.0)">horizon</text>
<line x1="888" y1="247.4" x2="756" y2="247.4" stroke="#141414" stroke-width="2.6"/>
<polygon points="749.5,247.5 773,238 766,247.5 773,257" fill="#141414"/>
<line x1="954.5" y1="359.8" x2="900" y2="405" stroke="#141414" stroke-width="2.4"/>
<polygon points="892.0,411.5 905.0,392.6 904.8,401.1 913.2,402.7" fill="#141414"/>
<g style="mix-blend-mode:multiply">
<rect x="906.6" y="77.6" width="12.8" height="25.8" rx="3.5" fill="#ea1010" stroke="#c00a0a" stroke-width="1.2" transform="rotate(4 913.0 90.5)"/>
<rect x="908.6" y="109.6" width="12.8" height="29.8" rx="3.5" fill="#ea1010" stroke="#c00a0a" stroke-width="1.2" transform="rotate(4 915.0 124.5)"/>
<rect x="907.1" y="150.6" width="12.8" height="24.8" rx="3.5" fill="#ea1010" stroke="#c00a0a" stroke-width="1.2" transform="rotate(4 913.5 163.0)"/>
<rect x="908.6" y="189.6" width="12.8" height="23.8" rx="3.5" fill="#ea1010" stroke="#c00a0a" stroke-width="1.2" transform="rotate(4 915.0 201.5)"/>
<rect x="910.6" y="223.6" width="12.8" height="24.8" rx="3.5" fill="#ea1010" stroke="#c00a0a" stroke-width="1.2" transform="rotate(4 917.0 236.0)"/>
<rect x="910.6" y="262.6" width="12.8" height="24.8" rx="3.5" fill="#ea1010" stroke="#c00a0a" stroke-width="1.2" transform="rotate(4 917.0 275.0)"/>
<rect x="911.6" y="299.6" width="12.8" height="26.8" rx="3.5" fill="#ea1010" stroke="#c00a0a" stroke-width="1.2" transform="rotate(4 918.0 313.0)"/>
<rect x="940.1" y="77.6" width="12.8" height="25.8" rx="3.5" fill="#ea1010" stroke="#c00a0a" stroke-width="1.2" transform="rotate(4 946.5 90.5)"/>
<rect x="942.1" y="113.6" width="12.8" height="26.8" rx="3.5" fill="#ea1010" stroke="#c00a0a" stroke-width="1.2" transform="rotate(4 948.5 127.0)"/>
<rect x="940.1" y="151.6" width="12.8" height="23.8" rx="3.5" fill="#ea1010" stroke="#c00a0a" stroke-width="1.2" transform="rotate(4 946.5 163.5)"/>
<rect x="943.6" y="186.6" width="12.8" height="26.8" rx="3.5" fill="#ea1010" stroke="#c00a0a" stroke-width="1.2" transform="rotate(4 950.0 200.0)"/>
<rect x="944.2" y="220.6" width="12.8" height="23.8" rx="3.5" fill="#ea1010" stroke="#c00a0a" stroke-width="1.2" transform="rotate(4 950.6 232.5)"/>
<rect x="946.0" y="263.6" width="12.8" height="23.8" rx="3.5" fill="#ea1010" stroke="#c00a0a" stroke-width="1.2" transform="rotate(4 952.4 275.5)"/>
<rect x="946.1" y="298.6" width="12.8" height="23.8" rx="3.5" fill="#ea1010" stroke="#c00a0a" stroke-width="1.2" transform="rotate(4 952.5 310.5)"/>
<rect x="973.6" y="77.6" width="12.8" height="26.8" rx="3.5" fill="#ea1010" stroke="#c00a0a" stroke-width="1.2" transform="rotate(4 980.0 91.0)"/>
<rect x="974.1" y="111.6" width="12.8" height="27.8" rx="3.5" fill="#ea1010" stroke="#c00a0a" stroke-width="1.2" transform="rotate(4 980.5 125.5)"/>
<rect x="972.6" y="152.6" width="12.8" height="26.8" rx="3.5" fill="#ea1010" stroke="#c00a0a" stroke-width="1.2" transform="rotate(4 979.0 166.0)"/>
<rect x="975.3" y="187.6" width="12.8" height="23.8" rx="3.5" fill="#ea1010" stroke="#c00a0a" stroke-width="1.2" transform="rotate(4 981.7 199.5)"/>
<rect x="977.1" y="220.6" width="12.8" height="26.8" rx="3.5" fill="#ea1010" stroke="#c00a0a" stroke-width="1.2" transform="rotate(4 983.5 234.0)"/>
<rect x="978.6" y="261.6" width="12.8" height="24.8" rx="3.5" fill="#ea1010" stroke="#c00a0a" stroke-width="1.2" transform="rotate(4 985.0 274.0)"/>
<rect x="977.1" y="296.6" width="12.8" height="23.8" rx="3.5" fill="#ea1010" stroke="#c00a0a" stroke-width="1.2" transform="rotate(4 983.5 308.5)"/>
<rect x="1007.6" y="114.6" width="12.8" height="22.8" rx="3.5" fill="#ea1010" stroke="#c00a0a" stroke-width="1.2" transform="rotate(4 1014.0 126.0)"/>
<rect x="1004.6" y="152.6" width="12.8" height="22.8" rx="3.5" fill="#ea1010" stroke="#c00a0a" stroke-width="1.2" transform="rotate(4 1011.0 164.0)"/>
<rect x="1010.1" y="186.6" width="12.8" height="23.8" rx="3.5" fill="#ea1010" stroke="#c00a0a" stroke-width="1.2" transform="rotate(4 1016.5 198.5)"/>
<polyline points="383.8,1007.0 383.6,822.2 566.5,818.8" fill="none" stroke="#df0d10" stroke-width="4.8" stroke-linejoin="round" stroke-linecap="round"/>
<polyline points="582.5,1006.0 582.5,824.5" fill="none" stroke="#df0d10" stroke-width="4.8" stroke-linejoin="round" stroke-linecap="round"/>
<polyline points="566.5,818.5 740.0,686.0 927.5,544.0" fill="none" stroke="#df0d10" stroke-width="3.8" stroke-linejoin="round" stroke-linecap="round"/>
<polyline points="927.5,544.0 924.5,458.0 975.0,457.3 979.5,461.0 979.5,546.5 940.5,544.0" fill="none" stroke="#df0d10" stroke-width="4.6" stroke-linejoin="round" stroke-linecap="round"/>
<polyline points="940.5,544.0 937.0,548.0 740.0,702.5 587.0,820.0 582.5,824.0" fill="none" stroke="#df0d10" stroke-width="3.8" stroke-linejoin="round" stroke-linecap="round"/>
<polyline points="937.0,516.2 978.0,516.2" fill="none" stroke="#df0d10" stroke-width="4.6" stroke-linejoin="round" stroke-linecap="round"/>
<polyline points="937.0,483.0 938.0,500.5 967.0,502.5" fill="none" stroke="#df0d10" stroke-width="4.4" stroke-linejoin="round" stroke-linecap="round"/>
<ellipse cx="965" cy="488" rx="2.8" ry="11" fill="#df0d10" transform="rotate(-3 965 488)"/>
<polyline points="418.0,856.0 556.0,852.0 558.0,984.5 420.0,985.5 418.0,856.0" fill="none" stroke="#df0d10" stroke-width="5.0" stroke-linejoin="round" stroke-linecap="round"/>
<polyline points="442.4,877.0 531.7,876.0 533.6,960.8 440.5,963.6 442.4,877.0" fill="none" stroke="#df0d10" stroke-width="4.7" stroke-linejoin="round" stroke-linecap="round"/>
<polyline points="419.8,857.4 558.0,983.4" fill="none" stroke="#df0d10" stroke-width="4.5" stroke-linejoin="round" stroke-linecap="round"/>
<polyline points="556.0,852.7 420.8,982.4" fill="none" stroke="#df0d10" stroke-width="4.5" stroke-linejoin="round" stroke-linecap="round"/>
<path d="M468,889 C471,883 480,881 487,883 C493,881 501,885 504,890 C502,895 494,893 489,896 C485,901 478,900 480,895 C474,895 469,893 468,889 Z" fill="#df0d10"/>
<path d="M516,910 C519,910 520,917 520,920 C525,922 527,930 524,935 C521,941 515,940 513,933 C511,927 511,920 515,917 Z" fill="#df0d10"/>
<polyline points="456.2,1011.0 456.2,1064.5 524.7,1065.0 524.7,1011.0" fill="none" stroke="#df0d10" stroke-width="4.8" stroke-linejoin="round" stroke-linecap="round"/>
<ellipse cx="472.7" cy="1021.2" rx="4.0" ry="5.0" fill="#df0d10" transform="rotate(0 472.7 1021.2)"/>
<ellipse cx="505.8" cy="1021.5" rx="4.0" ry="5.3" fill="#df0d10" transform="rotate(0 505.8 1021.5)"/>
<ellipse cx="489.6" cy="1043.0" rx="6.0" ry="7.0" fill="#df0d10" transform="rotate(30 489.6 1043.0)"/>
<path d="M469.1,1065 L469.1,1055.0 Q473.3,1049.0 477.5,1055.0 L477.5,1065 Z" fill="#df0d10"/>
<path d="M501.2,1065 L501.2,1054.0 Q505.4,1048.0 509.6,1054.0 L509.6,1065 Z" fill="#df0d10"/>
<polyline points="1306.5,800.0 1423.0,798.8 1422.0,915.0 1307.0,913.6 1306.5,800.0" fill="none" stroke="#df0d10" stroke-width="5.6" stroke-linejoin="round" stroke-linecap="round"/>
<polyline points="1306.5,800.0 1422.0,915.0" fill="none" stroke="#df0d10" stroke-width="4.8" stroke-linejoin="round" stroke-linecap="round"/>
<polyline points="1423.0,798.8 1307.0,913.6" fill="none" stroke="#df0d10" stroke-width="4.8" stroke-linejoin="round" stroke-linecap="round"/>
<polyline points="956.7,396.5 946.0,415.0" fill="none" stroke="#df0d10" stroke-width="4.0" stroke-linecap="round"/>
<polygon points="940.5,411.5 952.0,418.5 935.5,432.4" fill="#df0d10" stroke="#df0d10" stroke-width="2.5" stroke-linejoin="round"/>
<polyline points="871.0,473.5 893.0,473.0" fill="none" stroke="#df0d10" stroke-width="4.2" stroke-linecap="round"/>
<path d="M890,466 C896,464 903,468 906.5,473.5 C903,479 896,483 890,482 C891,478 891,470 890,466 Z" fill="#df0d10"/>
<polyline points="1034.8,479.8 1020.0,501.0" fill="none" stroke="#df0d10" stroke-width="4.0" stroke-linecap="round"/>
<polygon points="1026.0,503.8 1014.5,495.2 1008.5,515.6" fill="#df0d10" stroke="#df0d10" stroke-width="2.5" stroke-linejoin="round"/>
<polyline points="296.0,992.7 326.0,995.8" fill="none" stroke="#df0d10" stroke-width="5.2" stroke-linecap="round"/>
<polygon points="324.3,987.7 326.5,1006.5 350.4,1000.8" fill="#df0d10" stroke="#df0d10" stroke-width="3.0" stroke-linejoin="round"/>
</g>
<polygon points="79,41.5 1393,35.8 1396.2,1119.5 82,1124.6" fill="none" stroke="#0d0d0d" stroke-width="7"/>
</svg>
</body></html>
